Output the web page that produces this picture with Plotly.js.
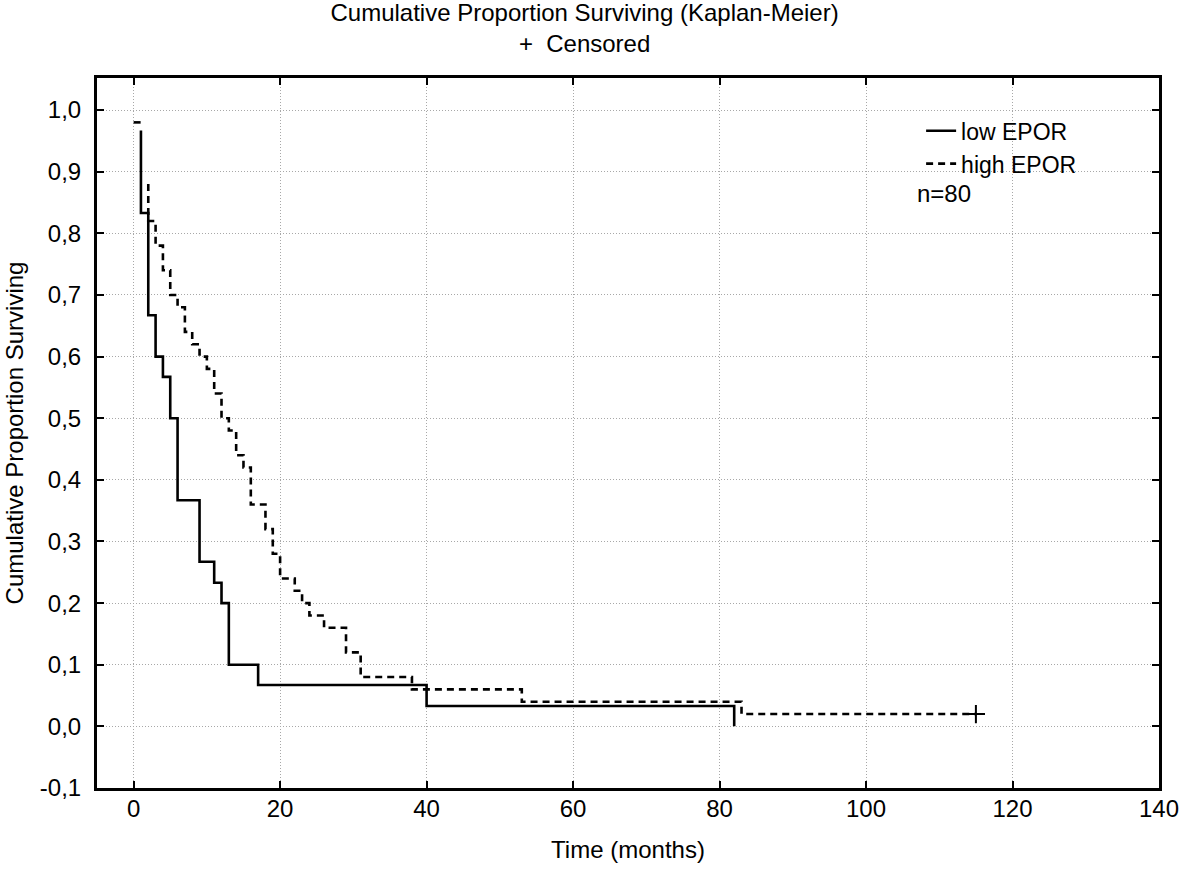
<!DOCTYPE html>
<html>
<head>
<meta charset="utf-8">
<script src="https://cdn.plot.ly/plotly-3.0.1.min.js"></script>
<style>html,body{margin:0;padding:0;background:#fff;}#chart{width:1181px;height:873px;}</style>
</head>
<body>
<div id="chart"></div>
<script>
// Low EPOR (n=30): step points (time, proportion held until next time)
var lowTime = [1, 1, 2, 3, 4, 5, 6, 9, 11, 12, 13, 17, 40, 82];
var lowSurv = [0.967, 0.833, 0.667, 0.600, 0.567, 0.500, 0.367, 0.267, 0.233, 0.200, 0.100, 0.067, 0.033, 0.000];

// High EPOR (n=50): null marks a break in the drawn line
var highTime = [0, 1, null, 2, 2, 3, 4, 5, 6, 7, 8, 9, 10, 11, 12, 13, 14, 15, 16, 18, 19, 20, 22, 23, 24, 26, 29, 31, 38, 53, 83, 115];
var highSurv = [0.98, 0.98, null, 0.88, 0.82, 0.78, 0.74, 0.70, 0.68, 0.64, 0.62, 0.60, 0.58, 0.54, 0.50, 0.48, 0.44, 0.42, 0.36, 0.32, 0.28, 0.24, 0.22, 0.20, 0.18, 0.16, 0.12, 0.08, 0.06, 0.04, 0.02, 0.02];

// Censored observation
var censTime = [115];
var censSurv = [0.02];

var xTickVals = [0, 20, 40, 60, 80, 100, 120, 140];
var xTickText = ['0', '20', '40', '60', '80', '100', '120', '140'];
var yTickVals = [-0.1, 0, 0.1, 0.2, 0.3, 0.4, 0.5, 0.6, 0.7, 0.8, 0.9, 1.0];
var yTickText = ['-0,1', '0,0', '0,1', '0,2', '0,3', '0,4', '0,5', '0,6', '0,7', '0,8', '0,9', '1,0'];

var FONT = 'Liberation Sans, Arial, sans-serif';

var traces = [
  {
    x: lowTime, y: lowSurv, type: 'scatter', mode: 'lines', name: 'low EPOR',
    line: {shape: 'hv', color: '#000', width: 2.6}, connectgaps: false
  },
  {
    x: highTime, y: highSurv, type: 'scatter', mode: 'lines', name: 'high EPOR',
    line: {shape: 'hv', color: '#000', width: 2.6, dash: '7px,5px'}, connectgaps: false
  },
  {
    x: censTime, y: censSurv, type: 'scatter', mode: 'markers', name: 'Censored', showlegend: false,
    marker: {symbol: 'cross-thin-open', size: 13, color: '#000', line: {color: '#000', width: 2}}
  }
];

var axisCommon = {
  showline: true, linecolor: '#000', linewidth: 3, mirror: 'ticks',
  ticks: 'inside', ticklen: 7, tickwidth: 2, tickcolor: '#000',
  showgrid: true, gridcolor: '#a8a8a8', gridwidth: 1, griddash: '1px,2px',
  zeroline: false, tickmode: 'array',
  tickfont: {family: FONT, size: 24, color: '#000'}
};

var layout = {
  width: 1181, height: 873,
  paper_bgcolor: '#fff', plot_bgcolor: '#fff',
  margin: {l: 97, r: 22, t: 78, b: 85},
  font: {family: FONT, color: '#000', size: 24},
  title: {
    text: 'Cumulative Proportion Surviving (Kaplan-Meier)<br>+  Censored',
    font: {family: FONT, size: 24, color: '#000'},
    x: 0.495, xref: 'container', xanchor: 'center', y: 0.976, yref: 'container', yanchor: 'top'
  },
  xaxis: Object.assign({}, axisCommon, {
    range: [-5, 140], tickvals: xTickVals, ticktext: xTickText, ticklabelstandoff: -3,
    title: {text: 'Time (months)', font: {family: FONT, size: 24, color: '#000'}, standoff: 21}
  }),
  yaxis: Object.assign({}, axisCommon, {
    range: [-0.1, 1.052], tickvals: yTickVals, ticktext: yTickText, ticklabelstandoff: 8,
    title: {text: 'Cumulative Proportion Surviving', font: {family: FONT, size: 24, color: '#000'}, standoff: 10}
  }),
  showlegend: true,
  legend: {
    x: 0.776, y: 0.956, xanchor: 'left', yanchor: 'top',
    bgcolor: 'rgba(0,0,0,0)', borderwidth: 0,
    font: {family: FONT, size: 23, color: '#000'},
    tracegroupgap: 0
  },
  annotations: [{
    text: 'n=80', xref: 'paper', yref: 'paper', x: 0.77, y: 0.838,
    xanchor: 'left', yanchor: 'middle', showarrow: false,
    font: {family: FONT, size: 24, color: '#000'}
  }]
};

Plotly.newPlot('chart', traces, layout, {displayModeBar: false, staticPlot: true});
</script>
</body>
</html>
